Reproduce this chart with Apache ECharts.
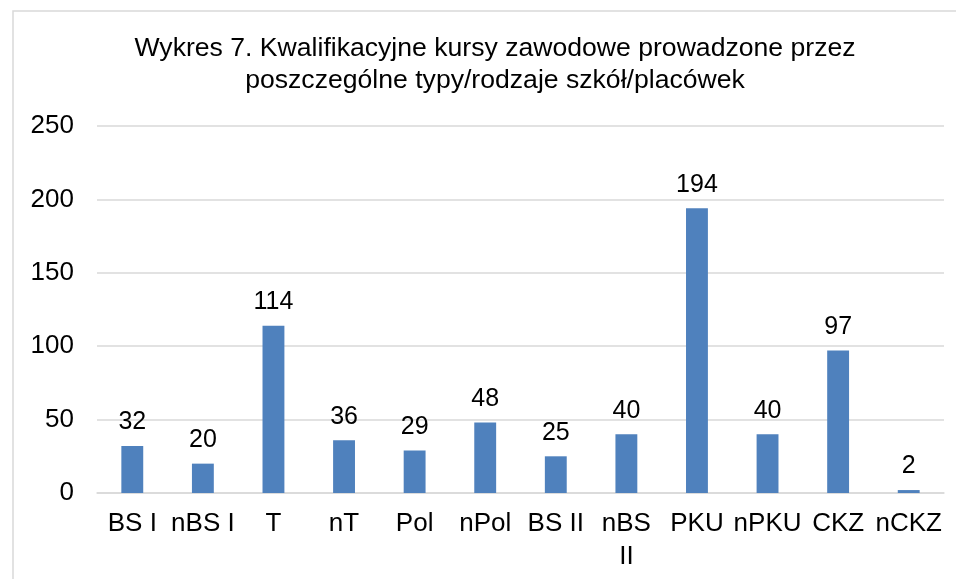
<!DOCTYPE html>
<html>
<head>
    <meta charset="utf-8">
    <script src="https://cdn.jsdelivr.net/npm/echarts@6/dist/echarts.min.js"></script>
    <style>
        html, body { margin: 0; padding: 0; background: #fff; }
        #main { width: 956px; height: 579px; }
    </style>
</head>
<body>
    <div id="main"></div>
    <script type="text/javascript">
    var categories = ['BS I', 'nBS I', 'T', 'nT', 'Pol', 'nPol', 'BS II', 'nBS II', 'PKU', 'nPKU', 'CKZ', 'nCKZ'];
    var values = [32, 20, 114, 36, 29, 48, 25, 40, 194, 40, 97, 2];
    var yTicks = [0, 50, 100, 150, 200, 250];

    var font = 'Liberation Sans, Arial, sans-serif';
    var myChart = echarts.init(document.getElementById('main'));

    var option = {
        animation: false,
        title: {
            text: 'Wykres 7. Kwalifikacyjne kursy zawodowe prowadzone przez\nposzczególne typy/rodzaje szkół/placówek',
            left: 490,
            top: 28,
            textAlign: 'center',
            textStyle: {
                fontFamily: font,
                fontSize: 26.6,
                fontWeight: 'normal',
                color: '#000',
                lineHeight: 32
            }
        },
        graphic: [{
            type: 'rect',
            shape: { x: 13, y: 11, width: 960, height: 600 },
            style: { fill: 'none', stroke: '#d9d9d9', lineWidth: 1.5 },
            silent: true
        }],
        grid: { left: 97, right: 12, top: 126, bottom: 86 },
        xAxis: {
            type: 'category',
            data: categories,
            axisLine: { show: true, lineStyle: { color: '#d9d9d9', width: 1.5 } },
            axisTick: { show: false },
            axisLabel: {
                interval: 0,
                margin: 14,
                fontFamily: font,
                fontSize: 26,
                color: '#000',
                lineHeight: 33,
                formatter: function (v) {
                    return v === 'nBS II' ? 'nBS\nII' : v;
                }
            }
        },
        yAxis: {
            type: 'value',
            min: yTicks[0],
            max: yTicks[yTicks.length - 1],
            interval: 50,
            axisLine: { show: false },
            axisTick: { show: false },
            splitLine: { lineStyle: { color: '#d9d9d9', width: 1.5 } },
            axisLabel: {
                margin: 23,
                fontFamily: font,
                fontSize: 26,
                color: '#000'
            }
        },
        series: [{
            type: 'bar',
            data: values,
            barWidth: '31%',
            itemStyle: { color: '#4f81bd' },
            label: {
                show: true,
                position: 'top',
                distance: 11,
                fontFamily: font,
                fontSize: 25,
                color: '#000'
            }
        }]
    };

    myChart.setOption(option);
    </script>
</body>
</html>
